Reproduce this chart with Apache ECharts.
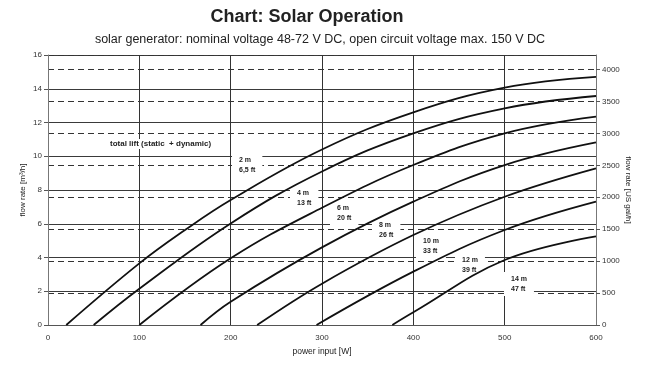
<!DOCTYPE html>
<html><head><meta charset="utf-8">
<script src="https://cdn.jsdelivr.net/npm/echarts@6/dist/echarts.min.js"></script>
<style>html,body{margin:0;padding:0;background:#fff}#c{width:650px;height:366px}</style>
</head><body><div id="c"></div>
<script>
// ---- data ----
const title = "Chart: Solar Operation";
const subtitle = "solar generator: nominal voltage 48-72 V DC, open circuit voltage max. 150 V DC";
const xName = "power input [W]";
const yLeftName = "flow rate [m³/h]";
const yRightName = "flow rate [US gal/h]";
const liftTitle = "total lift (static  + dynamic)";
const curveLabels = ["2 m\n6,5 ft", "4 m\n13 ft", "6 m\n20 ft", "8 m\n26 ft", "10 m\n33 ft", "12 m\n39 ft", "14 m\n47 ft"];

const lift2m  = [[20,0],[100,3.65],[150,5.63],[200,7.41],[300,10.4],[400,12.6],[500,14.06],[600,14.7]];
const lift4m  = [[50,0],[100,2.15],[200,6.02],[300,9.1],[400,11.36],[500,12.84],[600,13.57]];
const lift6m  = [[100,0],[200,3.95],[300,6.95],[400,9.48],[500,11.36],[600,12.35]];
const lift8m  = [[167,0],[200,1.38],[300,4.6],[400,7.31],[500,9.48],[600,10.82]];
const lift10m = [[229,0],[300,2.45],[400,5.33],[500,7.6],[600,9.28]];
const lift12m = [[294,0],[400,3.16],[500,5.63],[600,7.31]];
const lift14m = [[377,0],[400,0.75],[500,3.85],[600,5.25]];
const curves = [lift2m, lift4m, lift6m, lift8m, lift10m, lift12m, lift14m];

const GAL_PER_M3 = 264.172;

// ---- chart ----
const chart = echarts.init(document.getElementById('c'), null, {renderer: 'canvas'});
const FF = '"Liberation Sans", Arial, sans-serif';
const labelPos = [[239,155],[297,188],[337,203],[379,220],[423,236],[462,255],[511,274]];

const option = {
  animation: false,
  textStyle: {fontFamily: FF},
  title: [
    {text: title, left: 302, top: 3, textAlign: 'center',
     textStyle: {fontFamily: FF, fontSize: 18, fontWeight: 'bold', color: '#222'}},
    {text: subtitle, left: 315, top: 28, textAlign: 'center',
     textStyle: {fontFamily: FF, fontSize: 12.5, fontWeight: 'normal', color: '#222'}}
  ],
  grid: {left: 48, right: 54, top: 55, bottom: 41},
  xAxis: {
    type: 'value', min: 0, max: 600, interval: 100,
    name: xName, nameLocation: 'middle', nameGap: 22, nameMoveOverlap: false,
    nameTextStyle: {fontSize: 8.5, color: '#222', fontFamily: FF},
    axisLine: {show: true, lineStyle: {color: '#555', width: 1}},
    axisTick: {show: false},
    axisLabel: {fontSize: 8, color: '#333', margin: 9, fontFamily: FF},
    splitLine: {show: true, lineStyle: {color: '#333', width: 1}}
  },
  yAxis: [
    {
      type: 'value', min: 0, max: 16, interval: 2, position: 'left',
      name: yLeftName, nameLocation: 'middle', nameGap: 21, nameRotate: 90,
      nameMoveOverlap: false,
      nameTextStyle: {fontSize: 8, color: '#222', fontFamily: FF},
      axisLine: {show: true, lineStyle: {color: '#777', width: 1}},
      axisTick: {show: true, length: 4, lineStyle: {color: '#555'}},
      axisLabel: {fontSize: 8, color: '#333', margin: 6, fontFamily: FF},
      splitLine: {show: true, lineStyle: {color: '#3a3a3a', width: 1}}
    },
    {
      type: 'value', min: 0, max: 16 * GAL_PER_M3, interval: 500, position: 'right',
      name: yRightName, nameLocation: 'middle', nameGap: 28, nameRotate: -90,
      nameMoveOverlap: false,
      nameTextStyle: {fontSize: 8, color: '#222', fontFamily: FF},
      axisLine: {show: true, lineStyle: {color: '#777', width: 1}},
      axisTick: {show: true, length: 4, lineStyle: {color: '#555'}},
      axisLabel: {fontSize: 8, color: '#333', margin: 6, fontFamily: FF,
        showMaxLabel: false,
        formatter: v => (Math.abs(v % 500) < 1e-6 ? String(Math.round(v)) : '')},
      splitLine: {show: true, lineStyle: {color: '#333', width: 1, type: [6, 4]}}
    }
  ],
  series: curves.map(d => ({
    type: 'line', data: d, yAxisIndex: 0, showSymbol: false,
    smooth: 0.4,
    lineStyle: {color: '#111', width: 1.8}, z: 5
  })),
  graphic: [
    {type: 'text', left: 108, top: 139, z: 1,
     style: {text: liftTitle, font: 'bold 8px ' + FF, fill: '#222',
             backgroundColor: '#fff', padding: [1, 2]}}
  ].concat(curveLabels.map((t, i) => ({
    type: 'text', left: labelPos[i][0] - 7, top: labelPos[i][1] - 2, z: 1,
    style: {text: t, font: 'bold 7px ' + FF, fill: '#222', lineHeight: 10,
            backgroundColor: '#fff', padding: [2, 7]}
  })))
};
chart.setOption(option);
</script>
</body></html>
